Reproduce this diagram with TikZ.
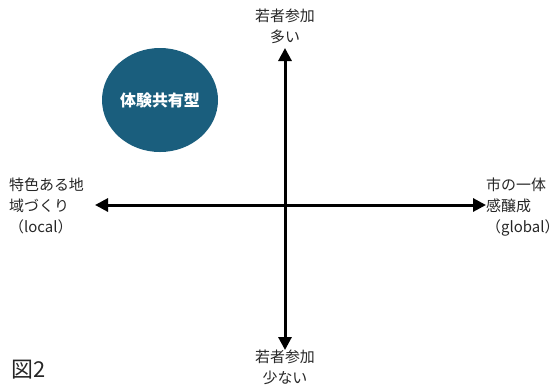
\documentclass[tikz,border=0pt]{standalone}
\usepackage{fontspec}
\setmainfont{Noto Sans CJK JP}
\usetikzlibrary{arrows.meta,shapes.geometric}
\definecolor{blob}{RGB}{26,94,125}
\begin{document}
\begin{tikzpicture}[x=1bp,y=-1bp,
  lbl/.style={inner sep=0pt,font=\fontsize{15}{21}\selectfont,text=black!85},
  axis/.style={line width=3bp,-{Triangle[length=13bp,width=13bp]}}]
\useasboundingbox (0,0) rectangle (560,387);
\coordinate (c) at (285,205);
\coordinate (top) at (285,48);
\coordinate (bot) at (285,350);
\coordinate (lft) at (95,205);
\coordinate (rgt) at (486,205);
\draw[axis] (c) -- (top);
\draw[axis] (c) -- (bot);
\draw[axis] (c) -- (lft);
\draw[axis] (c) -- (rgt);
\node[ellipse, minimum width=116bp, minimum height=104bp, fill=blob, inner sep=0pt,
  text=white, font=\fontsize{16}{18}\selectfont\bfseries] (blob) at (160,100) {体験共有型};
\node[lbl, align=center, anchor=south] (tl) at (285,44) {若者参加\\多い};
\node[lbl, align=center, anchor=north] (bl) at (285,350) {若者参加\\少ない};
\node[lbl, align=left, anchor=north west] (ll) at (9,178) {特色ある地\\域づくり\\（local）};
\node[lbl, align=left, anchor=north west] (rl) at (486,178) {市の一体\\感醸成\\（global）};
\node[inner sep=0pt, font=\fontsize{22}{24}\selectfont, text=black!85, anchor=west] (fig) at (11,370) {図2};
\end{tikzpicture}
\end{document}
